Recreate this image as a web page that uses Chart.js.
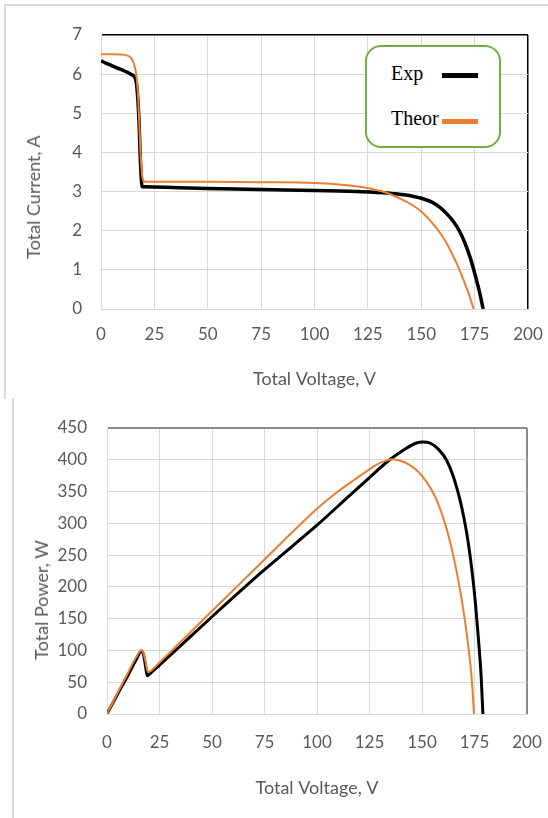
<!DOCTYPE html>
<html>
<head>
<meta charset="utf-8">
<title>I-V and P-V curves</title>
<script src="https://cdn.jsdelivr.net/npm/chart.js@4.4.0/dist/chart.umd.min.js"></script>
<style>
    html, body { margin: 0; padding: 0; background: #fff; }
    body { width: 548px; height: 818px; position: relative; overflow: hidden; font-family: Lato, sans-serif; }
    #frame-top { position: absolute; left: 4px; top: 4px; width: 548px; height: 393px; border-left: 2px solid #d9d9d9; border-top: 2px solid #d9d9d9; }
    #frame-bottom { position: absolute; left: 12px; top: 398px; width: 0; height: 420px; border-left: 2px solid #d9d9d9; }
    #chart-iv { position: absolute; left: 0; top: 0; }
    #chart-pv { position: absolute; left: 0; top: 398px; }
    .y-title { position: absolute; color: #595959; font-size: 18px; white-space: nowrap; transform: translate(-50%, -50%) rotate(-90deg); }
    #legend-box { position: absolute; left: 365px; top: 45px; width: 136px; height: 103px; box-sizing: border-box; border: 2.5px solid #70ad47; border-radius: 16px; background: #fff; }
    .legend-text { position: absolute; font-family: "Liberation Serif", "Times New Roman", serif; font-size: 20px; line-height: 20px; color: #000; }
    .legend-line { position: absolute; width: 36px; height: 5px; }
</style>
</head>
<body>
<div id="frame-top"></div>
<div id="frame-bottom"></div>
<canvas id="chart-iv" width="548" height="397"></canvas>
<canvas id="chart-pv" width="548" height="420"></canvas>
<div class="y-title" style="left:33px; top:197px;">Total Current, A</div>
<div class="y-title" style="left:41px; top:600px;">Total Power, W</div>
<div id="legend-box"></div>
<div class="legend-text" style="left:391px; top:63px;">Exp</div>
<div class="legend-line" style="left:442px; top:73px; background:#000;"></div>
<div class="legend-text" style="left:391px; top:108px;">Theor</div>
<div class="legend-line" style="left:442px; top:119px; background:#ed7d31;"></div>
<script>
// ---------------------------------------------
// Dados
// ---------------------------------------------

// Curva I-V experimental
const expVoltageIV = [0, 2, 5, 8, 11, 14, 15.5, 16.5, 17.2, 17.8, 18.3, 18.8, 19.2, 20, 30, 50, 75, 100, 120, 135, 142, 150, 155, 158.6, 162, 165, 168, 170.5, 173, 175, 177.3, 179];
const expCurrent   = [6.34, 6.29, 6.22, 6.15, 6.08, 6.0, 5.94, 5.8, 5.4, 4.8, 4.0, 3.4, 3.13, 3.12, 3.11, 3.08, 3.05, 3.03, 3.0, 2.96, 2.92, 2.83, 2.73, 2.6, 2.43, 2.24, 1.98, 1.68, 1.3, 0.92, 0.43, 0];

// Curva I-V teórica
const theorVoltageIV = [0, 5, 10, 12, 14, 15.5, 16.5, 17.3, 17.9, 18.5, 19.1, 19.7, 20.6, 30, 50, 75, 100, 110, 122.8, 133.7, 141.5, 146, 150, 154, 158.6, 162, 164.9, 167.5, 169.6, 172, 174.5];
const theorCurrent   = [6.51, 6.51, 6.5, 6.48, 6.42, 6.25, 6.0, 5.5, 4.8, 4.0, 3.5, 3.3, 3.25, 3.25, 3.25, 3.24, 3.22, 3.19, 3.11, 2.97, 2.78, 2.65, 2.49, 2.27, 1.96, 1.67, 1.36, 1.05, 0.77, 0.43, 0];

// Curva P-V experimental
const expVoltageP = [0, 5, 10, 14, 16.4, 17.5, 18.5, 19.2, 20, 25, 50, 75, 100, 115.6, 125, 134.6, 142, 147, 150.5, 154, 158, 161.6, 165, 168, 170, 172, 174, 175.5, 177, 178.2, 179];
const expPower    = [0, 31, 61, 86, 99, 92, 72, 60, 62, 77, 153, 227, 297, 344, 372, 400, 417, 426, 428, 426, 416, 400, 373, 338, 308, 270, 220, 172, 113, 57, 0];

// Curva P-V teórica
const theorVoltageP = [0, 5, 10, 14, 16.2, 17.3, 18.5, 19.5, 20.5, 25, 50, 75, 100, 110, 118, 125, 130, 136, 140, 144, 148, 152, 155.5, 158.5, 161.5, 164, 166.5, 168.5, 170.3, 172, 173.5, 174.8];
const theorPower    = [0, 33, 65, 90, 100, 97, 80, 66, 67, 81, 162, 243, 323, 350, 369, 385, 395, 401, 398, 392, 382, 366, 347, 324, 294, 262, 224, 188, 150, 108, 62, 0];

// Eixos
const voltageAxis = { min: 0, max: 200, step: 25 };
const currentAxis = { min: 0, max: 7, step: 1 };
const powerAxis   = { min: 0, max: 450, step: 50 };

// ---------------------------------------------
// Configuração
// ---------------------------------------------

const COR_EXP = '#000000';
const COR_THEOR = '#ed7d31';
const COR_GRADE = '#d9d9d9';
const COR_TEXTO = '#595959';

Chart.defaults.font.family = "Lato, 'Open Sans', sans-serif";
Chart.defaults.animation = false;

function pares(xs, ys) {
    return xs.map((x, i) => ({ x: x, y: ys[i] }));
}

function serie(label, xs, ys, cor, largura) {
    return {
        label: label,
        data: pares(xs, ys),
        borderColor: cor,
        backgroundColor: cor,
        borderWidth: largura,
        showLine: true,
        pointRadius: 0,
        cubicInterpolationMode: 'monotone'
    };
}

function criarGrafico(id, opts) {
    const ctx = document.getElementById(id);
    return new Chart(ctx, {
        type: 'scatter',
        data: {
            datasets: [
                serie('Theor', opts.theorX, opts.theorY, COR_THEOR, 2),
                serie('Exp', opts.expX, opts.expY, COR_EXP, opts.expWidth)
            ]
        },
        options: {
            responsive: false,
            devicePixelRatio: 1,
            layout: { padding: { left: 0, top: opts.padTop, right: opts.padRight, bottom: 0 } },
            plugins: { legend: { display: false }, tooltip: { enabled: false } },
            scales: {
                x: {
                    type: 'linear',
                    min: voltageAxis.min,
                    max: voltageAxis.max,
                    ticks: { stepSize: voltageAxis.step, padding: opts.xTickPad, color: COR_TEXTO, font: { size: 17 }, maxRotation: 0, autoSkip: false },
                    grid: {
                        drawTicks: false,
                        color: c => c.tick && c.tick.value === voltageAxis.max ? opts.edgeColor : COR_GRADE,
                        lineWidth: c => c.tick && c.tick.value === voltageAxis.max ? opts.edgeWidth : 1
                    },
                    border: { color: COR_GRADE, width: 1 },
                    title: { display: true, text: 'Total Voltage, V', color: COR_TEXTO, font: { size: 18 }, padding: { top: 0, bottom: opts.xTitlePad } },
                    afterFit: s => {
                        s.height = opts.xHeight;
                        s.paddingLeft = 0;
                        s.paddingRight = 0;
                    }
                },
                y: {
                    type: 'linear',
                    min: opts.yAxis.min,
                    max: opts.yAxis.max,
                    ticks: { stepSize: opts.yAxis.step, padding: opts.yTickPad, color: COR_TEXTO, font: { size: 17 } },
                    grid: {
                        drawTicks: false,
                        color: c => c.tick && c.tick.value === opts.yAxis.max ? opts.edgeColor : COR_GRADE,
                        lineWidth: c => c.tick && c.tick.value === opts.yAxis.max ? opts.edgeWidth : 1
                    },
                    border: { color: COR_GRADE, width: 1 },
                    afterFit: s => {
                        s.width = opts.yWidth;
                        s.paddingTop = 0;
                        s.paddingBottom = 0;
                    }
                }
            }
        }
    });
}

// Gráfico I-V
criarGrafico('chart-iv', {
    expX: expVoltageIV, expY: expCurrent,
    theorX: theorVoltageIV, theorY: theorCurrent,
    expWidth: 3.5,
    yAxis: currentAxis,
    padTop: 35, padRight: 20,
    yWidth: 101, xHeight: 88,
    xTickPad: 15, yTickPad: 19, xTitlePad: 7,
    edgeColor: '#000000', edgeWidth: 1.5
});

// Gráfico P-V
criarGrafico('chart-pv', {
    expX: expVoltageP, expY: expPower,
    theorX: theorVoltageP, theorY: theorPower,
    expWidth: 3,
    yAxis: powerAxis,
    padTop: 30, padRight: 21,
    yWidth: 107, xHeight: 104,
    xTickPad: 18, yTickPad: 20, xTitlePad: 19,
    edgeColor: '#8c8c8c', edgeWidth: 2
});
</script>
</body>
</html>
